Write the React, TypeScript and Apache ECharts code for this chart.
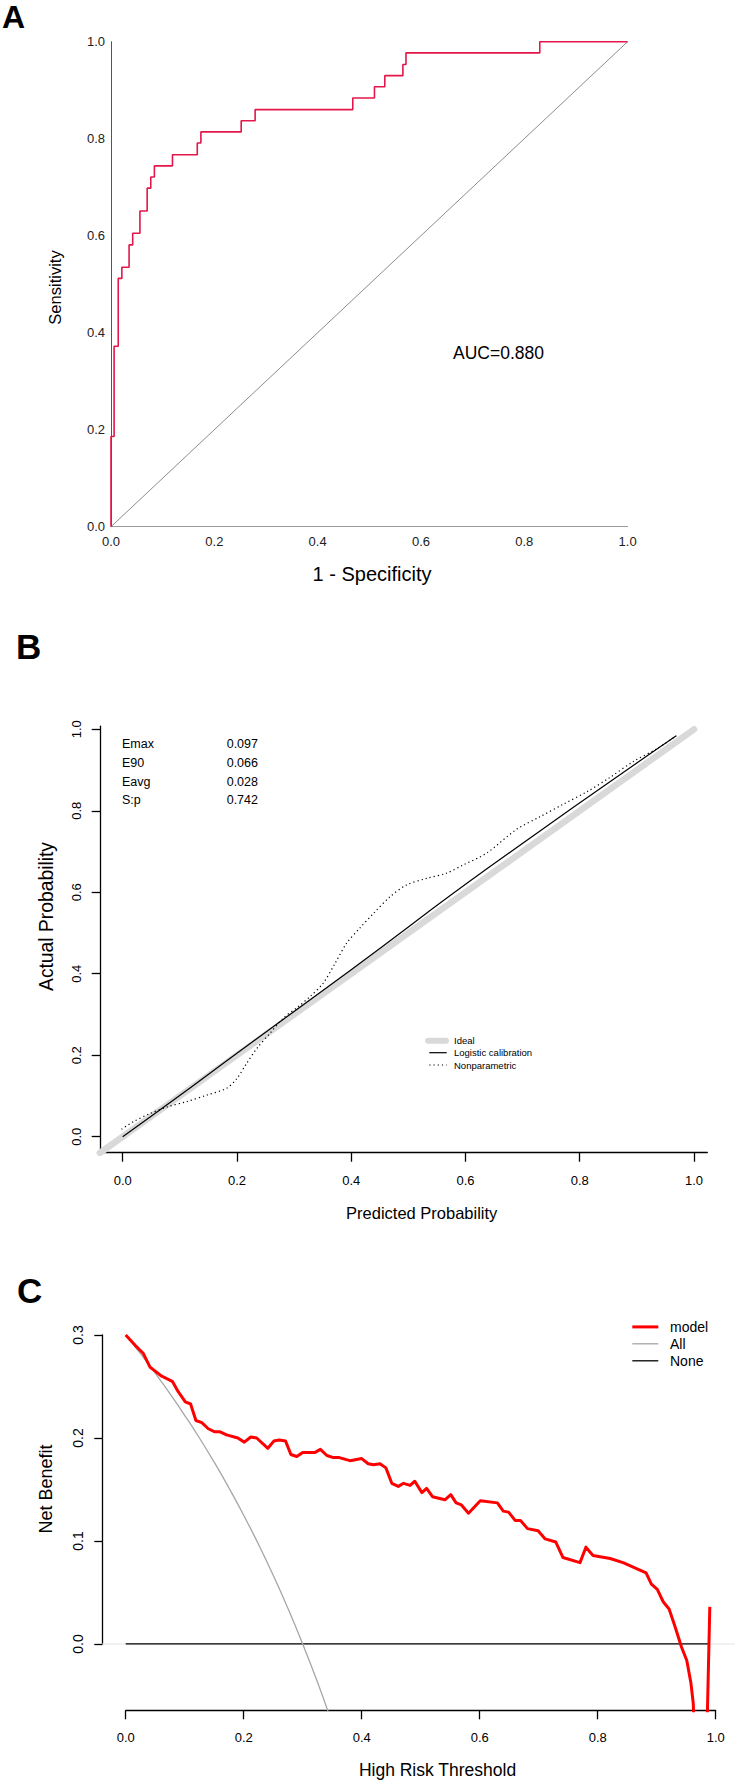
import React, { useEffect, useRef } from 'react';
import * as echarts from 'echarts';

const FONT = '"Liberation Sans", Arial, Helvetica, sans-serif';

// ---------- Panel A: ROC ----------
const ROC_FPR = [0, 0, 0.006, 0.014, 0.021, 0.035, 0.042, 0.056, 0.070, 0.077, 0.084, 0.119, 0.167, 0.174, 0.252, 0.279, 0.468, 0.510, 0.530, 0.565, 0.571, 0.830, 1.0];
const ROC_TPR = [0, 0.186, 0.372, 0.512, 0.535, 0.581, 0.605, 0.651, 0.698, 0.721, 0.744, 0.767, 0.791, 0.814, 0.837, 0.860, 0.884, 0.907, 0.930, 0.953, 0.977, 1.0, 1.0];
const REF_X = [0, 1];
const REF_Y = [0, 1];
const AUC_TEXT = 'AUC=0.880';

// ---------- Panel B: calibration ----------
const B_TICKS = [0, 0.2, 0.4, 0.6, 0.8, 1.0];
const IDEAL_X = [-0.04, 1.0];
const IDEAL_Y = [-0.04, 1.0];
const LOGISTIC_X = [0, 0.089, 0.2, 0.4, 0.643, 0.969];
const LOGISTIC_Y = [0, 0.090, 0.205, 0.41, 0.663, 0.984];
const NONPAR_X = [-0.002, 0.019, 0.048, 0.080, 0.112, 0.147, 0.182, 0.200, 0.217, 0.235, 0.258, 0.281, 0.307, 0.328, 0.351, 0.372, 0.392, 0.415, 0.439, 0.468, 0.497, 0.532, 0.567, 0.596, 0.637, 0.689, 0.730, 0.771, 0.813, 0.853, 0.895, 0.936, 0.969];
const NONPAR_Y = [0.018, 0.037, 0.057, 0.074, 0.086, 0.102, 0.119, 0.143, 0.180, 0.217, 0.254, 0.291, 0.319, 0.344, 0.377, 0.426, 0.475, 0.512, 0.548, 0.589, 0.618, 0.634, 0.647, 0.667, 0.696, 0.754, 0.785, 0.816, 0.847, 0.882, 0.922, 0.953, 0.984];
const STAT_NAMES = ['Emax', 'E90', 'Eavg', 'S:p'];
const STAT_VALUES = ['0.097', '0.066', '0.028', '0.742'];
const B_LEGEND = ['Ideal', 'Logistic calibration', 'Nonparametric'];

// ---------- Panel C: decision curve ----------
const DCA_T = [0.000, 0.016, 0.030, 0.041, 0.050, 0.061, 0.079, 0.089, 0.101, 0.110, 0.119, 0.129, 0.140, 0.151, 0.160, 0.171, 0.190, 0.201, 0.212, 0.222, 0.241, 0.251, 0.260, 0.271, 0.280, 0.290, 0.300, 0.321, 0.330, 0.341, 0.352, 0.362, 0.380, 0.400, 0.411, 0.420, 0.431, 0.441, 0.451, 0.462, 0.471, 0.482, 0.490, 0.502, 0.510, 0.520, 0.541, 0.551, 0.560, 0.569, 0.581, 0.601, 0.630, 0.640, 0.649, 0.660, 0.669, 0.681, 0.699, 0.711, 0.729, 0.741, 0.770, 0.780, 0.792, 0.821, 0.843, 0.863, 0.882, 0.891, 0.901, 0.911, 0.921, 0.931, 0.942, 0.951, 0.958, 0.962, 0.970, 0.980, 0.990];
const DCA_MODEL = [0.300, 0.290, 0.282, 0.269, 0.265, 0.260, 0.255, 0.245, 0.235, 0.233, 0.217, 0.215, 0.209, 0.206, 0.206, 0.203, 0.200, 0.196, 0.201, 0.200, 0.190, 0.197, 0.198, 0.197, 0.184, 0.182, 0.186, 0.186, 0.189, 0.183, 0.181, 0.181, 0.178, 0.180, 0.175, 0.174, 0.175, 0.171, 0.156, 0.153, 0.156, 0.154, 0.158, 0.147, 0.151, 0.143, 0.140, 0.145, 0.137, 0.135, 0.127, 0.139, 0.137, 0.129, 0.128, 0.120, 0.120, 0.112, 0.110, 0.102, 0.099, 0.084, 0.079, 0.094, 0.086, 0.083, 0.079, 0.074, 0.069, 0.058, 0.053, 0.041, 0.034, 0.017, -0.003, -0.016, -0.038, -0.058, -0.200, -0.216, 0.036];
const ALL_T = [0, 0.025, 0.05, 0.075, 0.1, 0.125, 0.15, 0.175, 0.2, 0.225, 0.25, 0.275, 0.3, 0.325, 0.35];
const ALL_NB = [0.3, 0.282, 0.263, 0.243, 0.222, 0.2, 0.1765, 0.1515, 0.125, 0.0968, 0.0667, 0.0345, 0, -0.037, -0.077];
const NONE_T = [0, 0.99];
const NONE_NB = [0, 0];
const ZERO_T = [-0.04, 1.04];
const C_LEGEND = ['model', 'All', 'None'];

const zip = (xs: number[], ys: number[]) => xs.map((x, i) => [x, ys[i]]);
const fmt1 = (v: number) => v.toFixed(1);

function txt(text: string, x: number, y: number, size: number, opts: any = {}) {
  return {
    type: 'text',
    x,
    y,
    rotation: opts.rotation || 0,
    style: {
      text,
      fontSize: size,
      fontFamily: FONT,
      fontWeight: opts.bold ? 'bold' : 'normal',
      fill: opts.fill || '#000',
      textAlign: opts.align || 'center',
      textVerticalAlign: 'middle',
      align: opts.align || 'center',
      verticalAlign: 'middle',
    },
    silent: true,
  };
}

function seg(x1: number, y1: number, x2: number, y2: number, stroke: string, lineWidth: number, extra: any = {}) {
  return {
    type: 'line',
    shape: { x1, y1, x2, y2 },
    style: { stroke, lineWidth, ...extra },
    silent: true,
  };
}

export default function App() {
  const ref = useRef<HTMLDivElement>(null);

  useEffect(() => {
    document.body.style.margin = '0';
    if (!ref.current) return;
    const chart = echarts.init(ref.current, undefined, { renderer: 'svg' });

    const blackAxis = { show: true, onZero: false, lineStyle: { color: '#000', width: 1.3 } };
    const blackTick = (len: number, custom?: number[]) => ({
      show: true,
      length: len,
      inside: false,
      ...(custom ? { customValues: custom } : {}),
      lineStyle: { color: '#000', width: 1.3 },
    });

    const graphic: any[] = [
      txt('A', 2, 17, 32, { bold: true, align: 'left' }),
      txt('B', 16, 646.5, 35, { bold: true, align: 'left' }),
      txt('C', 17, 1290.3, 35, { bold: true, align: 'left' }),
      txt('Sensitivity', 55, 287.5, 16.5, { rotation: Math.PI / 2 }),
      txt('1 - Specificity', 372, 574, 20),
      txt(AUC_TEXT, 453, 353, 17.5, { align: 'left' }),
      txt('Actual Probability', 46, 916.5, 19.3, { rotation: Math.PI / 2 }),
      txt('Predicted Probability', 421.7, 1213.3, 16.5),
      txt('Net Benefit', 45.8, 1489, 18, { rotation: Math.PI / 2 }),
      txt('High Risk Threshold', 437.5, 1769.7, 17.5),
    ];
    STAT_NAMES.forEach((n, i) => {
      graphic.push(txt(n, 122, 744.3 + i * 18.6, 12.5, { align: 'left' }));
      graphic.push(txt(STAT_VALUES[i], 226.7, 744.3 + i * 18.6, 12.5, { align: 'left' }));
    });
    // B legend
    const bLegY = [1040.7, 1052.7, 1065];
    graphic.push(seg(428, bLegY[0], 446, bLegY[0], '#D9D9D9', 6, { lineCap: 'round' }));
    graphic.push(seg(429.3, bLegY[1], 446.7, bLegY[1], '#000', 1.2));
    graphic.push(seg(429.3, bLegY[2], 446.7, bLegY[2], '#000', 1.2, { lineDash: [1.2, 3] }));
    B_LEGEND.forEach((n, i) => graphic.push(txt(n, 454, bLegY[i], 9.5, { align: 'left' })));
    // C legend
    const cLegY = [1326.9, 1343.8, 1360.8];
    graphic.push(seg(632.3, cLegY[0], 658.3, cLegY[0], '#FF0000', 3));
    graphic.push(seg(632.3, cLegY[1], 658.3, cLegY[1], '#A6A6A6', 1.3));
    graphic.push(seg(632.3, cLegY[2], 658.3, cLegY[2], '#000', 1.3));
    C_LEGEND.forEach((n, i) => graphic.push(txt(n, 670, cLegY[i], 14, { align: 'left' })));

    const option: any = {
      animation: false,
      textStyle: { fontFamily: FONT },
      grid: [
        { left: 111, top: 41.7, width: 516.6, height: 485 },
        { left: 100, top: 726.2, width: 607.3, height: 426.5 },
        { left: 102.1, top: 1320.6, width: 632.9, height: 390.1 },
        { left: 125.7, top: 1335, width: 590, height: 309 },
      ],
      xAxis: [
        {
          gridIndex: 0, type: 'value', min: 0, max: 1, interval: 0.2,
          axisLine: { show: true, onZero: false, lineStyle: { color: '#9a9a9a', width: 1 } },
          axisTick: { show: false }, splitLine: { show: false },
          axisLabel: { fontSize: 13, color: '#222', margin: 8, formatter: fmt1, fontFamily: FONT },
        },
        {
          gridIndex: 1, type: 'value', min: -0.0397, max: 1.0233,
          axisLine: blackAxis, axisTick: blackTick(9, B_TICKS), splitLine: { show: false },
          axisLabel: { customValues: B_TICKS, fontSize: 13, color: '#000', margin: 21, formatter: fmt1, fontFamily: FONT },
        },
        { gridIndex: 2, type: 'value', min: -0.04, max: 1.0327, show: false, splitLine: { show: false } },
        {
          gridIndex: 3, type: 'value', min: 0, max: 1, interval: 0.2, offset: 66.7,
          axisLine: blackAxis, axisTick: blackTick(8.6), splitLine: { show: false },
          axisLabel: { fontSize: 13, color: '#000', margin: 20, formatter: fmt1, fontFamily: FONT },
        },
      ],
      yAxis: [
        {
          gridIndex: 0, type: 'value', min: 0, max: 1, interval: 0.2,
          axisLine: { show: true, onZero: false, lineStyle: { color: '#555', width: 1 } },
          axisTick: { show: false }, splitLine: { show: false },
          axisLabel: { fontSize: 13, color: '#222', margin: 6, formatter: fmt1, fontFamily: FONT },
        },
        {
          gridIndex: 1, type: 'value', min: -0.0393, max: 1.0076,
          axisLine: blackAxis, axisTick: blackTick(8.3, B_TICKS), splitLine: { show: false },
          axisLabel: { customValues: B_TICKS, rotate: 90, fontSize: 13, color: '#000', margin: 17, formatter: fmt1, fontFamily: FONT },
        },
        { gridIndex: 2, type: 'value', min: -0.0648, max: 0.314, show: false, splitLine: { show: false } },
        {
          gridIndex: 3, type: 'value', min: 0, max: 0.3, interval: 0.1, offset: 23,
          axisLine: blackAxis, axisTick: blackTick(8.4), splitLine: { show: false },
          axisLabel: { rotate: 90, fontSize: 14, color: '#000', margin: 17.4, formatter: fmt1, fontFamily: FONT },
        },
      ],
      series: [
        { type: 'line', xAxisIndex: 0, yAxisIndex: 0, data: zip(REF_X, REF_Y), symbol: 'none', lineStyle: { color: '#8c8c8c', width: 1 }, silent: true },
        { type: 'line', xAxisIndex: 0, yAxisIndex: 0, data: zip(ROC_FPR, ROC_TPR), step: 'end', symbol: 'none', lineStyle: { color: '#E3174A', width: 1.6 }, silent: true, z: 3 },

        { type: 'line', xAxisIndex: 1, yAxisIndex: 1, data: zip(IDEAL_X, IDEAL_Y), symbol: 'none', lineStyle: { color: '#D9D9D9', width: 6.5, cap: 'round' }, silent: true },
        { type: 'line', xAxisIndex: 1, yAxisIndex: 1, data: zip(LOGISTIC_X, LOGISTIC_Y), smooth: true, symbol: 'none', lineStyle: { color: '#000', width: 1.2 }, silent: true },
        { type: 'line', xAxisIndex: 1, yAxisIndex: 1, data: zip(NONPAR_X, NONPAR_Y), smooth: 0.3, symbol: 'none', lineStyle: { color: '#000', width: 1.2, type: [1.2, 3] }, silent: true },

        { type: 'line', xAxisIndex: 2, yAxisIndex: 2, data: zip(ZERO_T, NONE_NB), symbol: 'none', lineStyle: { color: '#E3E3E3', width: 1 }, silent: true },
        { type: 'line', xAxisIndex: 2, yAxisIndex: 2, data: zip(NONE_T, NONE_NB), symbol: 'none', lineStyle: { color: '#000', width: 1.3 }, silent: true },
        { type: 'line', xAxisIndex: 2, yAxisIndex: 2, data: zip(ALL_T, ALL_NB), smooth: true, symbol: 'none', lineStyle: { color: '#A6A6A6', width: 1.3 }, silent: true },
        { type: 'line', xAxisIndex: 2, yAxisIndex: 2, data: zip(DCA_T, DCA_MODEL), symbol: 'none', lineStyle: { color: '#FF0000', width: 3, join: 'round' }, silent: true, z: 4 },
      ],
      graphic,
    };

    chart.setOption(option);
    return () => chart.dispose();
  }, []);

  return <div ref={ref} style={{ position: 'absolute', left: 0, top: 0, width: 735, height: 1786, background: '#fff' }} />;
}
